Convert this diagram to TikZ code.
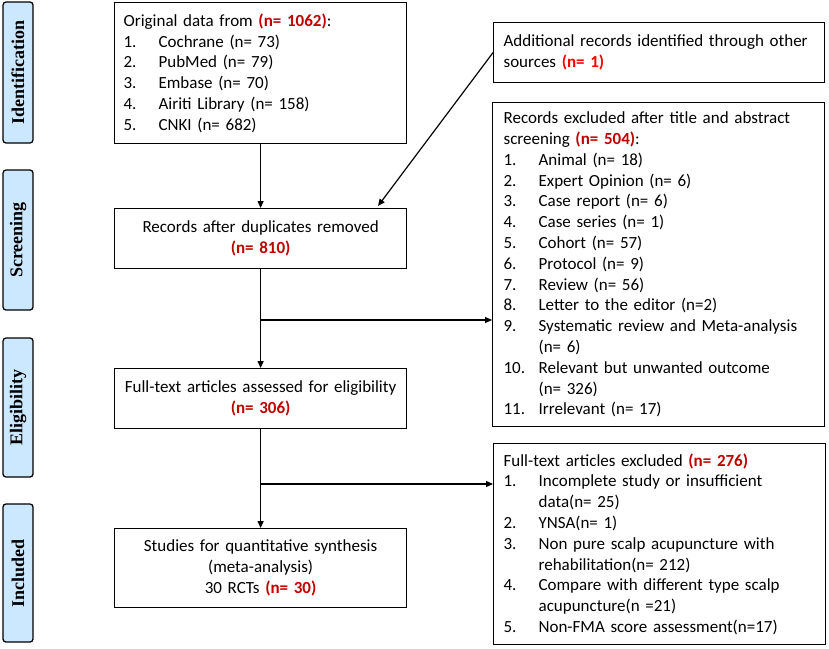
\documentclass[tikz,border=0pt]{standalone}
\usepackage{fontspec}
\setmainfont{Carlito}
\newfontfamily\timesf{Liberation Serif}
\usetikzlibrary{arrows.meta,calc}
\definecolor{dred}{RGB}{192,0,0}
\definecolor{bred}{RGB}{255,0,0}
\definecolor{lblue}{RGB}{204,232,255}
\newcommand{\nr}[1]{\textcolor{dred}{\textbf{#1}}}
\newcommand{\itm}[2]{\makebox[35pt][l]{#1}#2}
\newcommand{\cnt}[1]{\hspace*{35pt}#1}
\begin{document}
\begin{tikzpicture}[x=1pt,y=-1pt,
 phase/.style={draw, line width=1.3pt, rounded corners=3pt, fill=lblue, inner sep=0pt,
   rotate=90, minimum height=30pt, font=\timesf\bfseries\fontsize{18}{18}\selectfont},
 box/.style={draw, line width=1.2pt, inner sep=0pt, anchor=north west,
   font=\fontsize{17}{20.8}\selectfont},
 arr/.style={line width=1.2pt, -{Triangle[length=7pt,width=6pt]}}]
\useasboundingbox (0,0) rectangle (829,648);

% phase labels
\node[phase, minimum width=141pt] (idl) at (18,72.5) {Identification};
\node[phase, minimum width=140pt] (scl) at (18,240) {Screening};
\node[phase, minimum width=139pt] (ell) at (18,407.5) {Eligibility};
\node[phase, minimum width=138pt] (inl) at (18,573) {Included};

% main boxes
\node[box, minimum width=292pt, minimum height=141pt, text width=274pt, align=left] (A) at (114,2)
 {Original data from \nr{(n= 1062)}:\\
  \itm{1.}{Cochrane (n= 73)}\\
  \itm{2.}{PubMed (n= 79)}\\
  \itm{3.}{Embase (n= 70)}\\
  \itm{4.}{Airiti Library (n= 158)}\\
  \itm{5.}{CNKI (n= 682)}};

\node[box, minimum width=331pt, minimum height=60pt, text width=311pt, align=left] (add) at (493,22)
 {Additional records identified through other\\
  sources \textcolor{bred}{\textbf{(n= 1)}}};

\node[box, minimum width=292pt, minimum height=60pt, text width=280pt, align=center] (B) at (114,208)
 {Records after duplicates removed\\ \nr{(n= 810)}};

\node[box, minimum width=332pt, minimum height=324pt, text width=310pt, align=left] (exc1) at (492,102)
 {Records excluded after title and abstract\\
  screening \nr{(n= 504)}:\\
  \itm{1.}{Animal (n= 18)}\\
  \itm{2.}{Expert Opinion (n= 6)}\\
  \itm{3.}{Case report (n= 6)}\\
  \itm{4.}{Case series (n= 1)}\\
  \itm{5.}{Cohort (n= 57)}\\
  \itm{6.}{Protocol (n= 9)}\\
  \itm{7.}{Review (n= 56)}\\
  \itm{8.}{Letter to the editor (n=2)}\\
  \itm{9.}{Systematic review and Meta-analysis}\\
  \cnt{(n= 6)}\\
  \itm{10.}{Relevant but unwanted outcome}\\
  \cnt{(n= 326)}\\
  \itm{11.}{Irrelevant (n= 17)}};

\node[box, minimum width=292pt, minimum height=60pt, text width=280pt, align=center] (C) at (114,368)
 {Full-text articles assessed for eligibility\\ \nr{(n= 306)}};

\node[box, minimum width=332pt, minimum height=201pt, text width=312pt, align=left] (exc2) at (493,443)
 {Full-text articles excluded \nr{(n= 276)}\\
  \itm{1.}{Incomplete study or insufficient}\\
  \cnt{data(n= 25)}\\
  \itm{2.}{YNSA(n= 1)}\\
  \itm{3.}{Non pure scalp acupuncture with}\\
  \cnt{rehabilitation(n= 212)}\\
  \itm{4.}{Compare with different type scalp}\\
  \cnt{acupuncture(n =21)}\\
  \itm{5.}{Non-FMA score assessment(n=17)}};

\node[box, minimum width=292pt, minimum height=79pt, text width=280pt, align=center] (D) at (114,528)
 {Studies for quantitative synthesis\\ (meta-analysis)\\ 30 RCTs \nr{(n= 30)}};

% connectors
\coordinate (bt) at (378,206);
\coordinate (j1) at (B.south |- 0,320);
\coordinate (j2) at (C.south |- 0,484);
\draw[arr] (A.south) -- (B.north);
\draw[arr] (add.west) -- (bt);
\draw[arr] (B.south) -- (C.north);
\draw[arr] (j1) -- (j1 -| exc1.west);
\draw[arr] (C.south) -- (D.north);
\draw[arr] (j2) -- (j2 -| exc2.west);
\end{tikzpicture}
\end{document}
